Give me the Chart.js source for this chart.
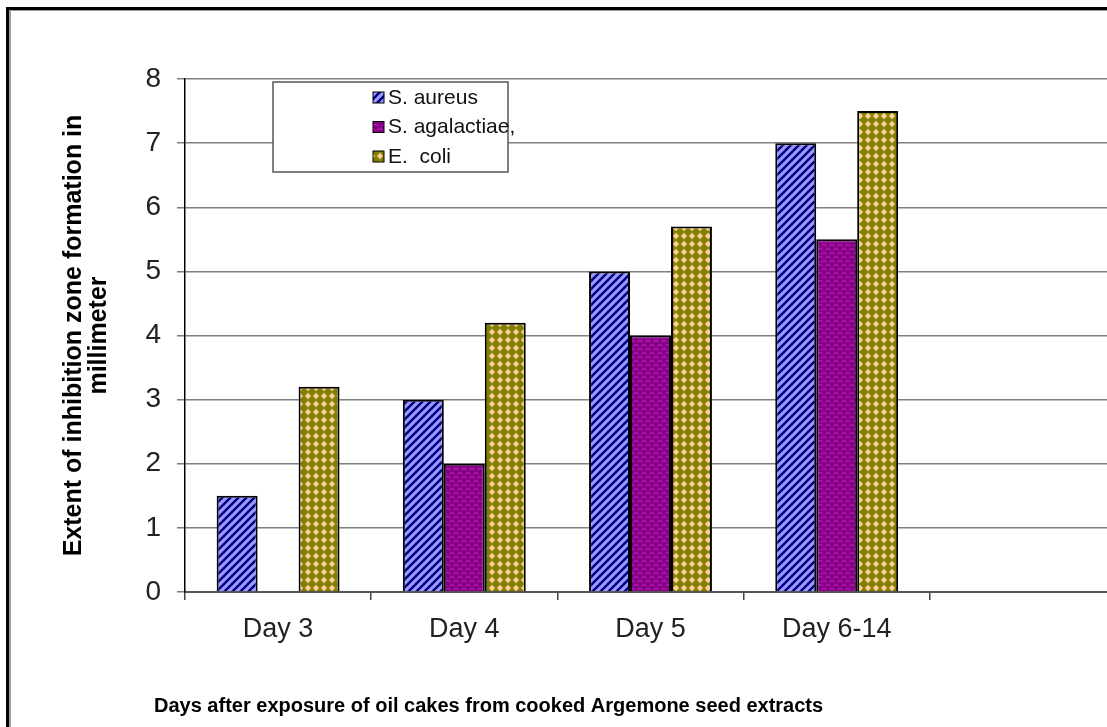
<!DOCTYPE html>
<html>
<head>
  <title>Inhibition zone by day</title>
  <script src="https://cdn.jsdelivr.net/npm/chart.js"></script>
  <style>
    html, body {
      margin: 0;
      padding: 0;
      width: 1107px;
      height: 727px;
      overflow: hidden;
      background: #ffffff;
    }
    #wrap {
      position: absolute;
      left: 0;
      top: 0;
      width: 1120px;
      height: 727px;
    }
    .frame {
      position: absolute;
      left: 6px;
      top: 7px;
      width: 1200px;
      height: 800px;
      border-top: 3px solid #000;
      border-left: 3px solid #000;
      pointer-events: none;
    }
    .frame::after {
      content: "";
      position: absolute;
      left: 0;
      top: 0;
      right: 0;
      bottom: 0;
      border-top: 1px solid #a0a0a0;
      border-left: 2px solid #a0a0a0;
    }
  </style>
</head>
<body>
<div id="wrap">
  <canvas id="chart" width="1120" height="727"></canvas>
</div>
<div class="frame"></div>

<script>
  // values (mm)
  const days = ['Day 3', 'Day 4', 'Day 5', 'Day 6-14', ''];
  const aureus = [1.5, 3, 5, 7, null];
  const agalactiae = [0, 2, 4, 5.5, null];
  const ecoli = [3.2, 4.2, 5.7, 7.5, null];
  const yTicks = [0, 1, 2, 3, 4, 5, 6, 7, 8];

  const FONT = "'Liberation Sans', Arial, sans-serif";

  function tile(draw) {
    const c = document.createElement('canvas');
    c.width = 8; c.height = 8;
    const g = c.getContext('2d');
    draw(g);
    return document.getElementById('chart').getContext('2d').createPattern(c, 'repeat');
  }

  // blue with dark diagonal stripes
  const stripePat = tile(g => {
    g.fillStyle = '#9999ff';
    g.fillRect(0, 0, 8, 8);
    g.strokeStyle = '#000080';
    g.lineWidth = 2.4;
    [[-8, 8, 8, -8], [0, 8, 8, 0], [0, 16, 16, 0]].forEach(l => {
      g.beginPath(); g.moveTo(l[0], l[1]); g.lineTo(l[2], l[3]); g.stroke();
    });
  });

  // purple with magenta scales
  const scalePat = tile(g => {
    g.fillStyle = '#800080';
    g.fillRect(0, 0, 8, 8);
    g.strokeStyle = '#e020e0';
    g.lineWidth = 0.9;
    [[4, 4], [0, 8], [8, 8], [0, 0], [8, 0]].forEach(p => {
      g.beginPath(); g.arc(p[0], p[1], 3.3, Math.PI * 1.15, Math.PI * 1.85); g.stroke();
    });
  });

  // olive with peach diamonds
  const dotPat = tile(g => {
    g.fillStyle = '#808000';
    g.fillRect(0, 0, 8, 8);
    g.fillStyle = '#ffcc99';
    g.beginPath();
    g.moveTo(4, 0.8); g.lineTo(7.2, 4); g.lineTo(4, 7.2); g.lineTo(0.8, 4);
    g.closePath(); g.fill();
  });

  // legend box drawn inside the plot, like the original
  const boxLegend = {
    id: 'boxLegend',
    afterDraw(chart) {
      const ctx = chart.ctx;
      const a = chart.chartArea;
      const x = a.left + 88, y = a.top + 3, w = 235, h = 90;
      ctx.save();
      ctx.fillStyle = '#fff';
      ctx.fillRect(x, y, w, h);
      ctx.strokeStyle = '#555';
      ctx.lineWidth = 1.5;
      ctx.strokeRect(x, y, w, h);
      ctx.font = '21px ' + FONT;
      ctx.textBaseline = 'middle';
      chart.data.datasets.forEach((ds, i) => {
        const cy = y + 16 + i * 29.5;
        ctx.fillStyle = ds.backgroundColor;
        ctx.fillRect(x + 100, cy - 6, 11, 11);
        ctx.strokeStyle = '#000';
        ctx.lineWidth = 1;
        ctx.strokeRect(x + 100, cy - 6, 11, 11);
        ctx.fillStyle = '#111';
        ctx.fillText(ds.label, x + 115, cy);
      });
      ctx.restore();
    }
  };

  // x axis title sits left of the plot centre in the original
  const xTitle = {
    id: 'xTitle',
    afterDraw(chart) {
      const ctx = chart.ctx;
      ctx.save();
      ctx.font = 'bold 20px ' + FONT;
      ctx.fillStyle = '#000';
      ctx.textBaseline = 'middle';
      ctx.fillText('Days after exposure of oil cakes from cooked Argemone seed extracts', 154, 706);
      ctx.restore();
    }
  };

  new Chart(document.getElementById('chart'), {
    type: 'bar',
    data: {
      labels: days,
      datasets: [
        { label: 'S. aureus', data: aureus, backgroundColor: stripePat },
        { label: 'S. agalactiae,', data: agalactiae, backgroundColor: scalePat },
        { label: 'E.  coli', data: ecoli, backgroundColor: dotPat }
      ]
    },
    options: {
      responsive: false,
      animation: false,
      layout: { padding: { top: 79, right: 4, left: 0, bottom: 0 } },
      datasets: {
        bar: {
          borderColor: '#000',
          borderWidth: 2,
          barPercentage: 1,
          categoryPercentage: 0.66
        }
      },
      plugins: {
        legend: { display: false },
        tooltip: { enabled: false }
      },
      scales: {
        x: {
          afterFit: s => { s.height = 135; },
          grid: {
            offset: true,
            drawOnChartArea: false,
            tickLength: 8,
            color: '#444',
            lineWidth: 1.5
          },
          border: { color: '#555', width: 2 },
          ticks: {
            padding: 13,
            color: '#222',
            font: { family: FONT, size: 27 }
          }
        },
        y: {
          min: 0,
          max: 8,
          afterFit: s => { s.width = 185; },
          afterBuildTicks: s => { s.ticks = yTicks.map(v => ({ value: v })); },
          grid: {
            color: '#808080',
            lineWidth: 1.5,
            tickLength: 8
          },
          border: { color: '#000', width: 1.5 },
          ticks: {
            padding: 16,
            color: '#222',
            font: { family: FONT, size: 28 }
          },
          title: {
            display: true,
            text: ['Extent of inhibition zone formation in', 'millimeter'],
            color: '#000',
            font: { family: FONT, size: 25, weight: 'bold', lineHeight: 1.0 },
            padding: { top: 62, bottom: 0 }
          }
        }
      }
    },
    plugins: [boxLegend, xTitle]
  });
</script>
</body>
</html>
